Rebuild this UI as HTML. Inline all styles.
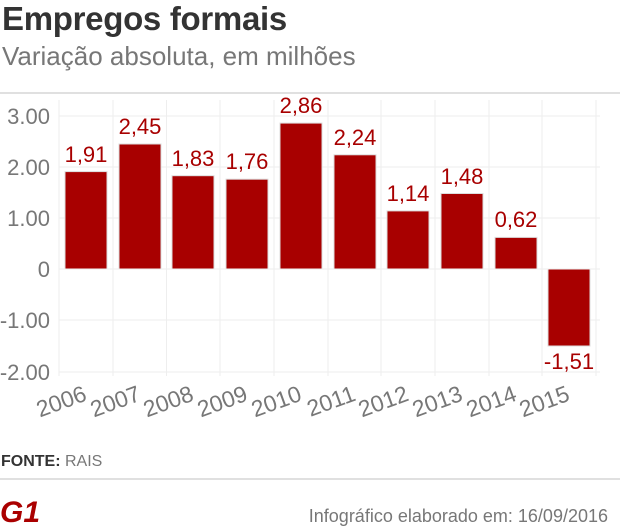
<!DOCTYPE html>
<html><head><meta charset="utf-8"><style>
body{margin:0;width:620px;height:526px;background:#fff;font-family:"Liberation Sans",sans-serif;overflow:hidden;position:relative}
.t{position:absolute;left:2px;top:0px;font-size:33px;font-weight:bold;color:#333;letter-spacing:-0.3px}
.s{position:absolute;left:2px;top:41px;font-size:26px;color:#777}
</style></head><body>
<div class="t">Empregos formais</div>
<div class="s">Variação absoluta, em milhões</div>
<svg width="620" height="526" style="position:absolute;left:0;top:0" font-family="Liberation Sans, sans-serif">
<line x1="0" y1="93" x2="620" y2="93" stroke="#e0e0e0" stroke-width="2"/>
<line x1="0" y1="479" x2="620" y2="479" stroke="#e0e0e0" stroke-width="2"/>
<g stroke="#eee" stroke-width="1">
<line x1="59" y1="116" x2="600" y2="116"/><line x1="59" y1="167" x2="600" y2="167"/><line x1="59" y1="218" x2="600" y2="218"/><line x1="59" y1="320" x2="600" y2="320"/><line x1="59" y1="372" x2="600" y2="372"/>
<line x1="59" y1="100" x2="59" y2="376"/><line x1="113" y1="100" x2="113" y2="376"/><line x1="166.5" y1="100" x2="166.5" y2="376"/><line x1="220" y1="100" x2="220" y2="376"/><line x1="274" y1="100" x2="274" y2="376"/><line x1="328" y1="100" x2="328" y2="376"/><line x1="381" y1="100" x2="381" y2="376"/><line x1="435" y1="100" x2="435" y2="376"/><line x1="489" y1="100" x2="489" y2="376"/><line x1="542" y1="100" x2="542" y2="376"/><line x1="596" y1="100" x2="596" y2="376"/>
</g>
<g fill="#777" font-size="22" text-anchor="end">
<text x="50" y="124">3.00</text><text x="50" y="175">2.00</text><text x="50" y="226">1.00</text><text x="50" y="277">0</text><text x="50" y="328">-1.00</text><text x="50" y="380">-2.00</text>
</g>
<g fill="#a80000" stroke="#ddd" stroke-width="1">
<rect x="65" y="171.6" width="42" height="97.4"/>
<rect x="119" y="144" width="42" height="125"/>
<rect x="172" y="175.7" width="42" height="93.3"/>
<rect x="226" y="179.2" width="42" height="89.8"/>
<rect x="280" y="123.1" width="42" height="145.9"/>
<rect x="334" y="154.8" width="42" height="114.2"/>
<rect x="387" y="210.9" width="42" height="58.1"/>
<rect x="441" y="193.5" width="42" height="75.5"/>
<rect x="495" y="237.4" width="42" height="31.6"/>
<rect x="548" y="269" width="42" height="77"/>
</g>
<line x1="59" y1="269" x2="600" y2="269" stroke="#eee"/>
<g fill="#a80000" font-size="22" text-anchor="middle">
<text x="86" y="162">1,91</text><text x="140" y="134">2,45</text><text x="193" y="166">1,83</text><text x="247" y="169">1,76</text><text x="301" y="113">2,86</text><text x="355" y="145">2,24</text><text x="408" y="201">1,14</text><text x="462" y="184">1,48</text><text x="516" y="227">0,62</text><text x="569" y="369">-1,51</text>
</g>
<g fill="#777" font-size="23" text-anchor="end">
<text transform="translate(88,400) rotate(-20)">2006</text>
<text transform="translate(142,400) rotate(-20)">2007</text>
<text transform="translate(195,400) rotate(-20)">2008</text>
<text transform="translate(249,400) rotate(-20)">2009</text>
<text transform="translate(303,400) rotate(-20)">2010</text>
<text transform="translate(357,400) rotate(-20)">2011</text>
<text transform="translate(410,400) rotate(-20)">2012</text>
<text transform="translate(464,400) rotate(-20)">2013</text>
<text transform="translate(518,400) rotate(-20)">2014</text>
<text transform="translate(571,400) rotate(-20)">2015</text>
</g>
<text x="1" y="466" font-size="16" fill="#333"><tspan font-weight="bold">FONTE:</tspan><tspan fill="#777"> RAIS</tspan></text>
<text x="0" y="522" font-size="30" font-weight="bold" fill="#a00" font-style="italic">G1</text>
<text x="608" y="522" font-size="18" fill="#777" text-anchor="end">Infográfico elaborado em: 16/09/2016</text>
</svg>
</body></html>
